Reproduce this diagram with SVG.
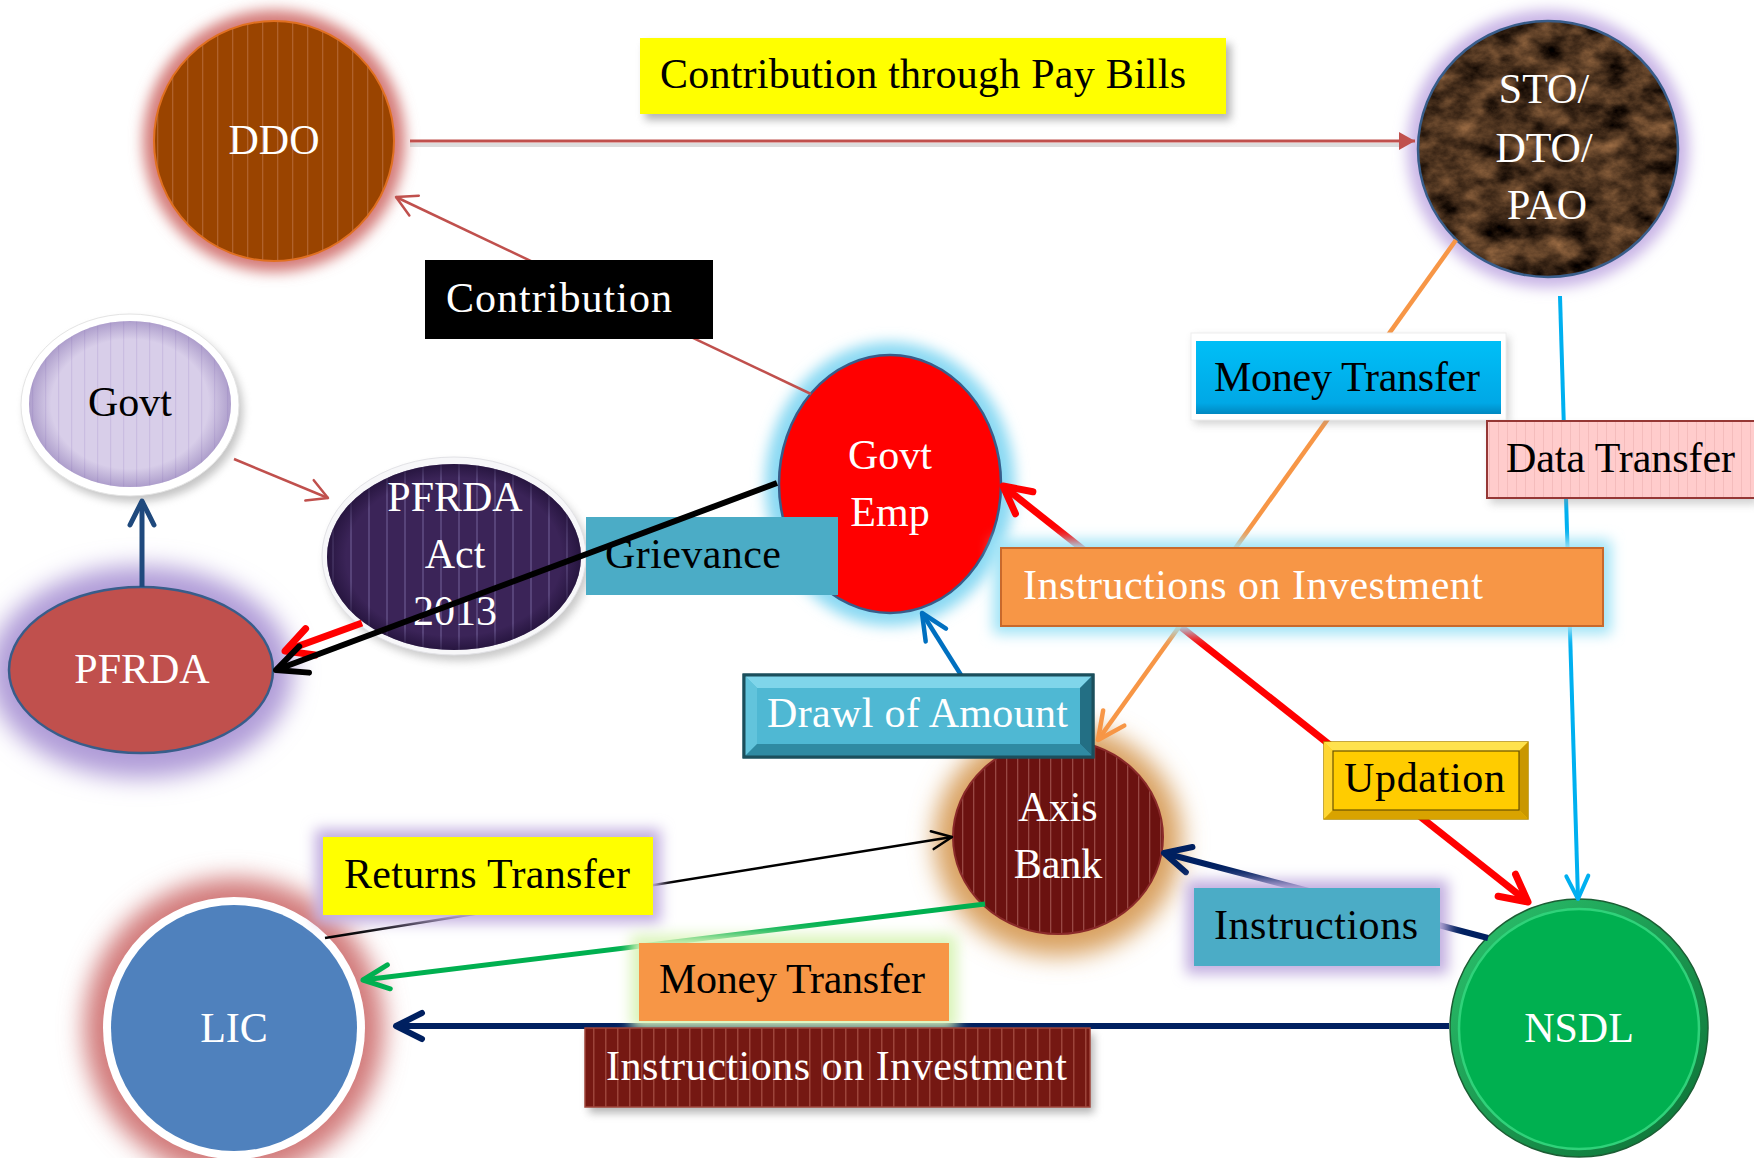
<svg xmlns="http://www.w3.org/2000/svg" width="1754" height="1158" viewBox="0 0 1754 1158">
<style>
.t{font-family:"Liberation Serif","Times New Roman",serif;font-size:42px}
.w{fill:#ffffff}
.k{fill:#000000}
.c{text-anchor:middle}
</style>
<defs>
<filter id="bl4" x="-30%" y="-30%" width="160%" height="160%"><feGaussianBlur stdDeviation="4"/></filter>
<filter id="bl7" x="-30%" y="-30%" width="160%" height="160%"><feGaussianBlur stdDeviation="7"/></filter>
<filter id="bl12" x="-40%" y="-40%" width="180%" height="180%"><feGaussianBlur stdDeviation="12"/></filter>
<filter id="marble" x="0" y="0" width="1" height="1" color-interpolation-filters="sRGB">
<feTurbulence type="fractalNoise" baseFrequency="0.035 0.05" numOctaves="5" seed="7" result="n"/>
<feColorMatrix in="n" type="matrix" values="0.8 0 0 0 -0.1  0.58 0 0 0 -0.09  0.38 0 0 0 -0.07  0 0 0 0 1" result="c"/>
<feComposite in="c" in2="SourceGraphic" operator="in"/>
</filter>
<pattern id="pDDO" patternUnits="userSpaceOnUse" width="15" height="20"><rect width="15" height="20" fill="#9a4400"/><rect x="7" width="1.3" height="20" fill="#b0622c"/></pattern>
<pattern id="pGovt" patternUnits="userSpaceOnUse" width="13" height="20"><rect width="13" height="20" fill="#d8cee9"/><rect x="6" width="1.2" height="20" fill="#cabde1"/></pattern>
<pattern id="pAct" patternUnits="userSpaceOnUse" width="18" height="20"><rect width="18" height="20" fill="#3b2458"/><rect x="8" width="2" height="20" fill="#574379"/></pattern>
<pattern id="pAxis" patternUnits="userSpaceOnUse" width="11" height="20"><rect width="11" height="20" fill="#6b1210"/><rect x="5" width="1.3" height="20" fill="#984844"/></pattern>
<pattern id="pInv" patternUnits="userSpaceOnUse" width="12" height="20"><rect width="12" height="20" fill="#751812"/><rect x="5" width="1.5" height="20" fill="#9c443a"/></pattern>
<pattern id="pData" patternUnits="userSpaceOnUse" width="9" height="20"><rect width="9" height="20" fill="#ffcccc"/><rect x="4" width="1" height="20" fill="#f4bcbc"/></pattern>
<radialGradient id="bevLav" cx="50%" cy="50%" r="50%"><stop offset="0.78" stop-color="#7a64a8" stop-opacity="0"/><stop offset="1" stop-color="#7a64a8" stop-opacity="0.45"/></radialGradient>
<radialGradient id="bevAct" cx="50%" cy="50%" r="50%"><stop offset="0.85" stop-color="#1a0c30" stop-opacity="0"/><stop offset="1" stop-color="#1a0c30" stop-opacity="0.6"/></radialGradient>
<linearGradient id="gBlue" x1="0" y1="0" x2="0" y2="1"><stop offset="0" stop-color="#00bff7"/><stop offset="0.85" stop-color="#00a8e6"/><stop offset="1" stop-color="#0088c0"/></linearGradient>
<linearGradient id="gNsdl" x1="0" y1="0" x2="1" y2="1"><stop offset="0" stop-color="#2cc46e"/><stop offset="1" stop-color="#0b6e34"/></linearGradient>
<marker id="mTri" markerUnits="userSpaceOnUse" orient="auto" overflow="visible" markerWidth="40" markerHeight="40"><path d="M-16,-9 L0,0 L-16,9 Z" fill="#c0504d"/></marker>
<marker id="mRedThin" markerUnits="userSpaceOnUse" orient="auto" overflow="visible" markerWidth="40" markerHeight="40"><path d="M-20,-11 L0,0 L-20,11" fill="none" stroke="#c0504d" stroke-width="2.5" stroke-linecap="round" stroke-linejoin="round"/></marker>
<marker id="mNavyBlue" markerUnits="userSpaceOnUse" orient="auto" overflow="visible" markerWidth="40" markerHeight="40"><path d="M-24,-12 L0,0 L-24,12" fill="none" stroke="#1f497d" stroke-width="5" stroke-linecap="round" stroke-linejoin="round"/></marker>
<marker id="mRed" markerUnits="userSpaceOnUse" orient="auto-start-reverse" overflow="visible" markerWidth="40" markerHeight="40"><path d="M-27,-14 L0,0 L-27,14" fill="none" stroke="#ff0000" stroke-width="7" stroke-linecap="round" stroke-linejoin="round"/></marker>
<marker id="mBlack" markerUnits="userSpaceOnUse" orient="auto" overflow="visible" markerWidth="40" markerHeight="40"><path d="M-30,-14 L0,0 L-30,14" fill="none" stroke="#000000" stroke-width="6" stroke-linecap="round" stroke-linejoin="round"/></marker>
<marker id="mOrange" markerUnits="userSpaceOnUse" orient="auto" overflow="visible" markerWidth="40" markerHeight="40"><path d="M-27,-13 L0,0 L-27,13" fill="none" stroke="#f79646" stroke-width="4.5" stroke-linecap="round" stroke-linejoin="round"/></marker>
<marker id="mCyan" markerUnits="userSpaceOnUse" orient="auto" overflow="visible" markerWidth="40" markerHeight="40"><path d="M-23,-11 L0,0 L-23,11" fill="none" stroke="#00b0f0" stroke-width="4" stroke-linecap="round" stroke-linejoin="round"/></marker>
<marker id="mBlue" markerUnits="userSpaceOnUse" orient="auto" overflow="visible" markerWidth="40" markerHeight="40"><path d="M-26,-12 L0,0 L-26,12" fill="none" stroke="#0070c0" stroke-width="4.5" stroke-linecap="round" stroke-linejoin="round"/></marker>
<marker id="mBlackThin" markerUnits="userSpaceOnUse" orient="auto" overflow="visible" markerWidth="40" markerHeight="40"><path d="M-20,-9 L0,0 L-20,9" fill="none" stroke="#000000" stroke-width="2.5" stroke-linecap="round" stroke-linejoin="round"/></marker>
<marker id="mGreen" markerUnits="userSpaceOnUse" orient="auto" overflow="visible" markerWidth="40" markerHeight="40"><path d="M-26,-12 L0,0 L-26,12" fill="none" stroke="#00b050" stroke-width="5" stroke-linecap="round" stroke-linejoin="round"/></marker>
<marker id="mNavy" markerUnits="userSpaceOnUse" orient="auto" overflow="visible" markerWidth="40" markerHeight="40"><path d="M-26,-13 L0,0 L-26,13" fill="none" stroke="#002060" stroke-width="6" stroke-linecap="round" stroke-linejoin="round"/></marker>
</defs>
<rect width="1754" height="1158" fill="#ffffff"/>

<g id="node-ddo">
<ellipse cx="274" cy="141" rx="131" ry="131" fill="#d47a78" filter="url(#bl7)"/>
<ellipse cx="274" cy="141" rx="120" ry="120" fill="url(#pDDO)" stroke="#e07020" stroke-width="2"/>
<text class="t w c" x="274" y="154">DDO</text>
</g>

<g id="node-sto">
<ellipse cx="1548" cy="149" rx="141" ry="139" fill="#c9b5e6" filter="url(#bl7)"/>
<ellipse cx="1548" cy="149" rx="130" ry="128" fill="#4a3220"/>
<ellipse cx="1548" cy="149" rx="130" ry="128" fill="#000000" filter="url(#marble)"/>
<ellipse cx="1548" cy="149" rx="130" ry="128" fill="none" stroke="#385d8a" stroke-width="2.5"/>
<text class="t w c" x="1544" y="103">STO/</text>
<text class="t w c" x="1544" y="162">DTO/</text>
<text class="t w c" x="1547" y="219">PAO</text>
</g>

<g id="node-govt">
<ellipse cx="134" cy="411" rx="109" ry="91" fill="#8a8a8a" opacity="0.5" filter="url(#bl4)"/>
<ellipse cx="130" cy="405" rx="109" ry="91" fill="#ffffff" stroke="#e4e4e4" stroke-width="1"/>
<ellipse cx="130" cy="404" rx="101" ry="83" fill="url(#pGovt)"/>
<ellipse cx="130" cy="404" rx="101" ry="83" fill="url(#bevLav)"/>
<text class="t k c" x="130" y="416">Govt</text>
</g>

<g id="node-pfrda">
<ellipse cx="141" cy="672" rx="152" ry="106" fill="#b09cd8" filter="url(#bl12)"/>
<ellipse cx="141" cy="670" rx="132" ry="83" fill="#c0504d" stroke="#385d8a" stroke-width="2.5"/>
<text class="t w c" x="142" y="683">PFRDA</text>
</g>

<g id="node-pfrda-act">
<ellipse cx="458" cy="562" rx="132" ry="99" fill="#8a8a8a" opacity="0.45" filter="url(#bl4)"/>
<ellipse cx="454" cy="556" rx="132" ry="99" fill="#f7f7f9" stroke="#e2e2e6" stroke-width="1"/>
<ellipse cx="454" cy="557" rx="127" ry="93" fill="url(#pAct)"/>
<ellipse cx="454" cy="557" rx="127" ry="93" fill="url(#bevAct)"/>
<text class="t w c" x="455" y="511">PFRDA</text>
<text class="t w c" x="455" y="568">Act</text>
<text class="t w c" x="455" y="625">2013</text>
</g>

<g id="node-govt-emp">
<ellipse cx="890" cy="484" rx="125" ry="142" fill="#8ad9f3" filter="url(#bl7)"/>
<ellipse cx="890" cy="484" rx="111" ry="129" fill="#ff0000" stroke="#385d8a" stroke-width="2.5"/>
<text class="t w c" x="890" y="469">Govt</text>
<text class="t w c" x="890" y="526">Emp</text>
</g>

<g id="node-axis">
<ellipse cx="1058" cy="840" rx="124" ry="116" fill="#d9a160" filter="url(#bl12)"/>
<ellipse cx="1058" cy="837" rx="105" ry="97" fill="url(#pAxis)" stroke="#8a2a2a" stroke-width="2"/>
<text class="t w c" x="1058" y="821">Axis</text>
<text class="t w c" x="1058" y="878">Bank</text>
</g>

<g id="node-lic">
<ellipse cx="234" cy="1028" rx="150" ry="150" fill="#d27a7a" filter="url(#bl12)"/>
<ellipse cx="234" cy="1028" rx="131" ry="131" fill="#ffffff"/>
<ellipse cx="234" cy="1028" rx="123" ry="123" fill="#4f81bd"/>
<text class="t w c" x="234" y="1042">LIC</text>
</g>

<g id="node-nsdl">
<ellipse cx="1579" cy="1028" rx="129" ry="129" fill="url(#gNsdl)" stroke="#1b5e34" stroke-width="1.5"/>
<ellipse cx="1579" cy="1029" rx="120" ry="120" fill="#00b050" stroke="#30d27a" stroke-width="2.5"/>
<text class="t w c" x="1579" y="1042">NSDL</text>
</g>

<g id="label-grievance">
<rect x="586" y="517" width="252" height="78" fill="#4bacc6"/>
<text class="t k" x="605" y="568" textLength="176">Grievance</text>
</g>

<g id="connectors" fill="none">
<line x1="410" y1="145" x2="1400" y2="145" stroke="#aaaaaa" stroke-width="4" opacity="0.4"/>
<line x1="410" y1="141" x2="1415" y2="141" stroke="#c0504d" stroke-width="3" marker-end="url(#mTri)"/>
<line x1="811" y1="394" x2="396" y2="197" stroke="#c0504d" stroke-width="2.5" marker-end="url(#mRedThin)"/>
<line x1="234" y1="459" x2="328" y2="498" stroke="#c0504d" stroke-width="2.5" marker-end="url(#mRedThin)"/>
<line x1="142" y1="587" x2="142" y2="501" stroke="#1f497d" stroke-width="5" marker-end="url(#mNavyBlue)"/>
<line x1="362" y1="623" x2="285" y2="651" stroke="#ff0000" stroke-width="7" marker-end="url(#mRed)"/>
<line x1="1003" y1="486" x2="1528" y2="902" stroke="#ff0000" stroke-width="7" marker-start="url(#mRed)" marker-end="url(#mRed)"/>
<line x1="1456" y1="240" x2="1098" y2="740" stroke="#f79646" stroke-width="4.5" marker-end="url(#mOrange)"/>
<line x1="1560" y1="296" x2="1578" y2="899" stroke="#00b0f0" stroke-width="4" marker-end="url(#mCyan)"/>
<line x1="961" y1="675" x2="922" y2="613" stroke="#0070c0" stroke-width="4.5" marker-end="url(#mBlue)"/>
<line x1="325" y1="938" x2="952" y2="837" stroke="#000000" stroke-width="2.5" marker-end="url(#mBlackThin)"/>
<line x1="985" y1="904" x2="363" y2="980" stroke="#00b050" stroke-width="5" marker-end="url(#mGreen)"/>
<line x1="1488" y1="938" x2="1164" y2="853" stroke="#002060" stroke-width="6" marker-end="url(#mNavy)"/>
<line x1="1449" y1="1026" x2="396" y2="1026" stroke="#002060" stroke-width="6" marker-end="url(#mNavy)"/>
<line x1="777" y1="483" x2="276" y2="670" stroke="#000000" stroke-width="6" marker-end="url(#mBlack)"/>
</g>

<g id="label-pay-bills">
<rect x="645" y="44" width="586" height="76" fill="#777777" opacity="0.55" filter="url(#bl4)"/>
<rect x="640" y="38" width="586" height="76" fill="#ffff00"/>
<text class="t k" x="660" y="88" textLength="526">Contribution through Pay Bills</text>
</g>

<g id="label-contribution">
<rect x="425" y="260" width="288" height="79" fill="#000000"/>
<text class="t w" x="446" y="312" textLength="226">Contribution</text>
</g>

<g id="label-money-transfer-top">
<rect x="1194" y="337" width="315" height="87" fill="#999999" opacity="0.45" filter="url(#bl4)"/>
<rect x="1191" y="333" width="315" height="87" fill="#ffffff" stroke="#eeeeee" stroke-width="1"/>
<rect x="1196" y="341" width="305" height="73" fill="url(#gBlue)"/>
<text class="t k" x="1214" y="391" textLength="266">Money Transfer</text>
</g>

<g id="label-data-transfer">
<rect x="1490" y="426" width="268" height="78" fill="#999999" opacity="0.45" filter="url(#bl4)"/>
<rect x="1487" y="421" width="270" height="77" fill="url(#pData)" stroke="#953735" stroke-width="2"/>
<text class="t k" x="1506" y="472" textLength="229">Data Transfer</text>
</g>

<g id="label-instr-invest-top">
<rect x="993" y="540" width="618" height="94" fill="#9fe3f6" filter="url(#bl7)"/>
<rect x="1001" y="548" width="602" height="78" fill="#f79646" stroke="#c8692c" stroke-width="2"/>
<text class="t w" x="1023" y="599" textLength="460">Instructions on Investment</text>
</g>

<g id="label-drawl">
<rect x="744" y="675" width="349" height="82" fill="#4fb8d3" stroke="#1b4f5c" stroke-width="3"/>
<polygon points="744,675 1093,675 1080,688 757,688" fill="#7fd5ea"/>
<polygon points="744,675 757,688 757,744 744,757" fill="#62c4dc"/>
<polygon points="744,757 757,744 1080,744 1093,757" fill="#2f8aa2"/>
<polygon points="1093,675 1093,757 1080,744 1080,688" fill="#236f84"/>
<rect x="744" y="675" width="349" height="82" fill="none" stroke="#1b4f5c" stroke-width="3"/>
<text class="t w" x="767" y="727" textLength="301">Drawl of Amount</text>
</g>

<g id="label-updation">
<rect x="1324" y="742" width="204" height="77" fill="#ffcc00" stroke="#b48c00" stroke-width="1.5"/>
<polygon points="1324,742 1528,742 1519,751 1333,751" fill="#ffe24d"/>
<polygon points="1324,742 1333,751 1333,810 1324,819" fill="#ffd633"/>
<polygon points="1324,819 1333,810 1519,810 1528,819" fill="#d9a300"/>
<polygon points="1528,742 1528,819 1519,810 1519,751" fill="#c99700"/>
<rect x="1333" y="751" width="186" height="59" fill="none" stroke="#6b5200" stroke-width="1.2"/>
<text class="t k" x="1344" y="792" textLength="161">Updation</text>
</g>

<g id="label-returns-transfer">
<rect x="315" y="829" width="346" height="94" fill="#c2afe0" filter="url(#bl7)"/>
<rect x="323" y="837" width="330" height="78" fill="#ffff00"/>
<text class="t k" x="344" y="888" textLength="286">Returns Transfer</text>
</g>

<g id="label-instructions">
<rect x="1186" y="880" width="262" height="94" fill="#c2afe0" filter="url(#bl7)"/>
<rect x="1194" y="888" width="246" height="78" fill="#4bacc6"/>
<text class="t k" x="1214" y="939" textLength="204">Instructions</text>
</g>

<g id="label-money-transfer-bottom">
<rect x="631" y="935" width="326" height="94" fill="#d9f4b8" filter="url(#bl7)"/>
<rect x="639" y="943" width="310" height="78" fill="#f79646"/>
<text class="t k" x="659" y="993" textLength="266">Money Transfer</text>
</g>

<g id="label-instr-invest-bottom">
<rect x="589" y="1034" width="505" height="79" fill="#777777" opacity="0.55" filter="url(#bl4)"/>
<rect x="585" y="1028" width="505" height="79" fill="url(#pInv)" stroke="#a0453b" stroke-width="1.5"/>
<text class="t w" x="606" y="1080" textLength="461">Instructions on Investment</text>
</g>
</svg>
